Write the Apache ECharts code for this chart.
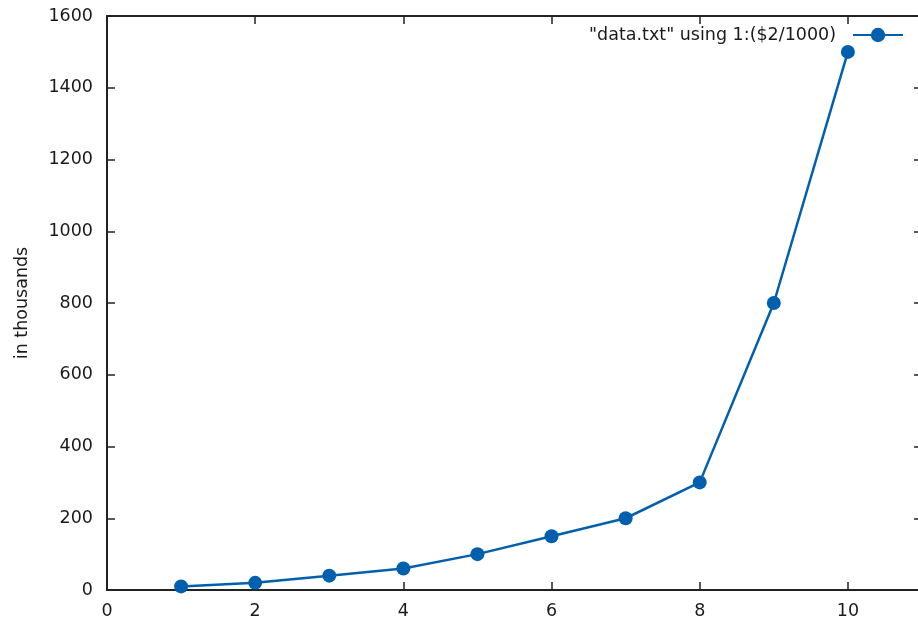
<!DOCTYPE html>
<html>
<head>
<meta charset="utf-8">
<script src="https://cdn.jsdelivr.net/npm/echarts@6/dist/echarts.min.js"></script>
<style>html,body{margin:0;padding:0;background:#fff}#c{width:918px;height:619px}</style>
</head>
<body>
<div id="c"></div>
<script>
const xValues = [1, 2, 3, 4, 5, 6, 7, 8, 9, 10];
const yValues = [10, 20, 40, 60, 100, 150, 200, 300, 800, 1500];
const seriesName = '"data.txt" using 1:($2/1000)';
const yAxisTitle = 'in thousands';

const chart = echarts.init(document.getElementById('c'), null, {renderer: 'canvas'});
const font = 'DejaVu Sans';
const fs = 17.5;
const txt = '#1a1a1a';
function axisCommon() {
  return {
    axisLine: {show: true, onZero: false, lineStyle: {color: '#222', width: 2}},
    axisTick: {show: true, inside: true, length: 8, lineStyle: {color: '#222', width: 1.5}},
    splitLine: {show: false}
  };
}
chart.setOption({
  animation: false,
  textStyle: {fontFamily: font},
  grid: {left: 107, top: 16, width: 815, height: 574, outerBoundsMode: 'none', containLabel: false},
  legend: {
    right: 9, top: 21, itemWidth: 50, itemHeight: 18, align: 'right', itemGap: 0,
    textStyle: {fontFamily: font, fontSize: fs, color: txt, padding: [0, 12, 0, 0]},
    data: [seriesName]
  },
  xAxis: [
    Object.assign({type: 'value', min: 0, max: 11, interval: 2, position: 'bottom',
      axisLabel: {fontFamily: font, fontSize: fs, color: txt, margin: 12, showMaxLabel: false,
        formatter: v => String(v)}}, axisCommon()),
    Object.assign({type: 'value', min: 0, max: 11, interval: 2, position: 'top',
      axisLabel: {show: false}}, axisCommon())
  ],
  yAxis: [
    Object.assign({type: 'value', min: 0, max: 1600, interval: 200, position: 'left',
      name: yAxisTitle, nameLocation: 'middle', nameGap: 76, nameRotate: 90,
      nameTextStyle: {fontFamily: font, fontSize: fs, color: txt},
      axisLabel: {fontFamily: font, fontSize: fs, color: txt, margin: 14,
        formatter: v => String(v)}}, axisCommon()),
    Object.assign({type: 'value', min: 0, max: 1600, interval: 200, position: 'right',
      axisLabel: {show: false}}, axisCommon())
  ],
  series: [{
    name: seriesName,
    type: 'line',
    data: xValues.map((x, i) => [x, yValues[i]]),
    symbol: 'circle',
    symbolSize: 14,
    itemStyle: {color: '#0060ad'},
    lineStyle: {color: '#0060ad', width: 2.5}
  }]
});
</script>
</body>
</html>
